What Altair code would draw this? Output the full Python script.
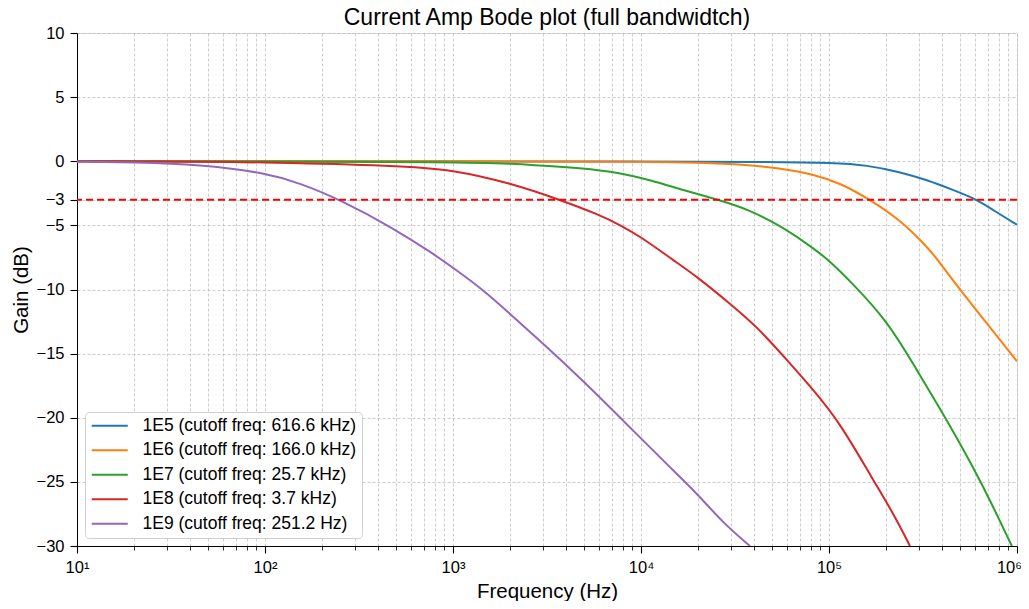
import altair as alt
import pandas as pd

FONT = "Liberation Sans"

labels = [
    "1E5 (cutoff freq: 616.6 kHz)",
    "1E6 (cutoff freq: 166.0 kHz)",
    "1E7 (cutoff freq: 25.7 kHz)",
    "1E8 (cutoff freq: 3.7 kHz)",
    "1E9 (cutoff freq: 251.2 Hz)",
]
colors = ["#1f77b4", "#ff7f0e", "#2ca02c", "#d62728", "#9467bd"]

blue_f = [10, 1000, 10000, 50000, 105000, 159000, 239000, 332000, 457000, 616600, 745000, 1000000]
blue_db = [0.0, 0.0, -0.02, -0.05, -0.12, -0.3, -0.84, -1.46, -2.24, -3.0, -3.8, -4.95]

orange_f = [10, 1000, 10000, 30000, 56000, 85000, 114500, 166000, 239000, 332000, 375000, 457000, 498000, 718000, 1000000]
orange_db = [0.0, 0.0, -0.03, -0.16, -0.55, -1.07, -1.7, -3.0, -4.58, -6.66, -7.6, -9.3, -10.0, -12.95, -15.6]

green_f = [10, 100, 1000, 2000, 4040, 6050, 7730, 11200, 16700, 25700, 38000, 56300, 85000, 101000, 128000, 203700, 293700, 403600, 583000, 745000, 939000]
green_db = [0.0, -0.01, -0.06, -0.16, -0.47, -0.7, -0.92, -1.46, -2.24, -3.0, -3.8, -5.1, -6.9, -7.8, -9.26, -12.4, -16.3, -19.65, -23.8, -26.9, -30.0]

red_f = [10, 45, 100, 503, 1000, 2010, 3700, 6050, 7730, 10000, 14790, 19860, 29720, 41400, 59800, 82300, 114500, 171600, 218800, 269700]
red_db = [0.0, -0.03, -0.08, -0.33, -0.65, -1.7, -3.0, -4.2, -4.97, -5.9, -7.7, -9.0, -11.1, -12.9, -15.5, -17.8, -20.4, -24.85, -27.4, -30.0]

purple_f = [10, 20, 45, 100, 153, 251.2, 480, 783, 1000, 1445, 2190, 3010, 4910, 8010, 11160, 14800, 19850, 27300, 38000]
purple_db = [-0.03, -0.08, -0.24, -0.9, -1.7, -3.0, -5.2, -7.2, -8.3, -10.0, -12.4, -14.2, -17.1, -20.2, -22.3, -24.1, -25.9, -28.2, -30.0]

y_ticks = [10, 5, 0, -3, -5, -10, -15, -20, -25, -30]
x_ticks = [k * 10 ** d for d in range(1, 6) for k in range(1, 10)] + [1000000]
cutoff_db = [-3]

series = [(blue_f, blue_db), (orange_f, orange_db), (green_f, green_db), (red_f, red_db), (purple_f, purple_db)]
rows = []
for lab, (fs, gs) in zip(labels, series):
    for f, g in zip(fs, gs):
        rows.append({"freq": f, "gain": g, "series": lab})
df = pd.DataFrame(rows)

is_major = "abs(log(datum.value)/LN10 - round(log(datum.value)/LN10)) < 0.001"

x_axis = alt.Axis(
    values=x_ticks,
    labelExpr=f"{is_major} ? '10' + ['⁰','¹','²','³','⁴','⁵','⁶'][round(log(datum.value)/LN10)] : ''",
    title="Frequency (Hz)",
    titleFontSize=20.5,
    titleFont=FONT,
    titleFontWeight="normal",
    titleColor="black",
    titlePadding=6,
    labelFont=FONT,
    labelFontSize=16.5,
    labelColor="black",
    labelPadding=6,
    labelFlush=False,
    labelOverlap=False,
    labelOffset={"condition": {"test": "datum.value > 999999", "value": -8}, "value": 0},
    tickSize={"condition": {"test": is_major, "value": 7}, "value": 4},
    tickWidth={"condition": {"test": is_major, "value": 1.1}, "value": 0.8},
    tickColor="black",
    domainColor="black",
    grid=True,
    gridDash=[3, 2],
    gridColor="#b8b8b8",
    gridWidth=0.7,
)

y_axis = alt.Axis(
    values=y_ticks,
    title="Gain (dB)",
    titleFontSize=20.5,
    titleFont=FONT,
    titleFontWeight="normal",
    titleColor="black",
    titlePadding=5,
    labelFont=FONT,
    labelFontSize=16.5,
    labelColor="black",
    labelPadding=6,
    labelFlush=False,
    labelOverlap=False,
    tickSize=7,
    tickWidth=1.1,
    tickColor="black",
    domainColor="black",
    grid=True,
    gridDash=[3, 2],
    gridColor="#b8b8b8",
    gridWidth=0.7,
)

lines = alt.Chart(df).mark_line(strokeWidth=2, interpolate="basis", clip=True).encode(
    x=alt.X("freq:Q", scale=alt.Scale(type="log", domain=[10, 1000000], nice=False), axis=x_axis),
    y=alt.Y("gain:Q", scale=alt.Scale(domain=[-30, 10], nice=False, zero=False), axis=y_axis),
    color=alt.Color(
        "series:N",
        scale=alt.Scale(domain=labels, range=colors),
        sort=labels,
        legend=alt.Legend(
            title=None,
            orient="bottom-left",
            offset=8,
            symbolType="M-2.4,0H2.4",
            symbolStrokeWidth=2,
            symbolSize=225,
            symbolOffset=11,
            labelFont=FONT,
            labelFontSize=17.5,
            labelColor="black",
            labelLimit=500,
            labelOffset=24,
            padding=5,
            rowPadding=5.5,
            fillColor="white",
            strokeColor="#d0d0d0",
            cornerRadius=4,
        ),
    ),
)

cut = alt.Chart(pd.DataFrame({"y": cutoff_db})).mark_rule(color="#ff0000", strokeDash=[7, 4], strokeWidth=2).encode(
    y="y:Q"
)

chart = (
    alt.layer(lines, cut)
    .properties(
        width=940,
        height=513,
        title=alt.TitleParams(
            "Current Amp Bode plot (full bandwidtch)",
            font=FONT,
            fontSize=23,
            fontWeight="normal",
            color="black",
            anchor="middle",
            frame="group",
            offset=-5,
        ),
        autosize=alt.AutoSizeParams(type="none"),
        padding={"left": 69, "top": 25, "right": 4, "bottom": 55},
    )
    .configure_view(stroke="black", strokeWidth=1)
    .configure(background="white")
)

chart.save("out.html", embed_options={"renderer": "svg", "actions": False})
